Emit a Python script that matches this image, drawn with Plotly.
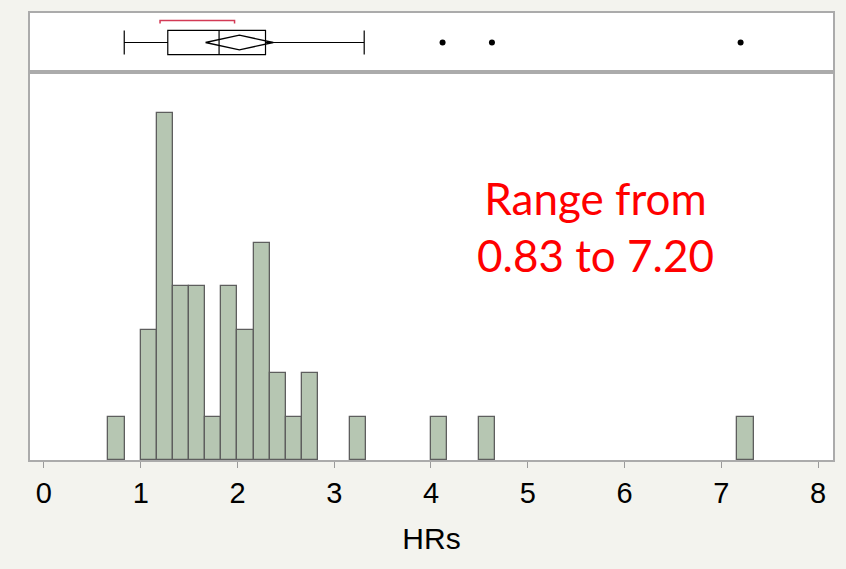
import plotly.graph_objects as go

# ---- Histogram data (bin width 1/6) ----
bin_width = 1 / 6
bin_lefts = [0.667, 1.000, 1.167, 1.333, 1.500, 1.667, 1.833, 2.000, 2.167,
             2.333, 2.500, 2.667, 3.167, 4.000, 4.500, 7.167]
counts = [1, 3, 8, 4, 4, 1, 4, 3, 5, 2, 1, 2, 1, 1, 1, 1]

# ---- Box plot summary ----
whisker_lo = 0.83
q1 = 1.28
median = 1.81
q3 = 2.29
whisker_hi = 3.31
outliers = [4.12, 4.63, 7.20]
mean_val = 2.02
mean_ci = [1.67, 2.37]
shortest_half = [1.20, 1.97]

x_ticks = [0, 1, 2, 3, 4, 5, 6, 7, 8]
x_title = "HRs"
note_text = "Range from<br>0.83 to 7.20"

diamond_h = 0.25
bracket_y = 0.75
bracket_tick = 0.64

fig = go.Figure()

fig.add_trace(go.Bar(
    x=bin_lefts, y=counts, offset=0, width=bin_width,
    marker=dict(color="#b6c6b2", line=dict(color="#5e5e5e", width=1.3)),
    xaxis="x", yaxis="y", showlegend=False, hoverinfo="skip"))

fig.add_trace(go.Box(
    orientation="h", y=[0], q1=[q1], median=[median], q3=[q3],
    lowerfence=[whisker_lo], upperfence=[whisker_hi],
    width=0.82, whiskerwidth=1, boxpoints=False,
    fillcolor="white", line=dict(color="black", width=1.2),
    xaxis="x2", yaxis="y2", showlegend=False, hoverinfo="skip"))

fig.add_trace(go.Scatter(
    x=[mean_ci[0], mean_val, mean_ci[1], mean_val, mean_ci[0]],
    y=[0, diamond_h, 0, -diamond_h, 0], mode="lines",
    line=dict(color="black", width=1.3),
    xaxis="x2", yaxis="y2", showlegend=False, hoverinfo="skip"))

fig.add_trace(go.Scatter(
    x=outliers, y=[0] * len(outliers), mode="markers",
    marker=dict(color="black", size=6),
    xaxis="x2", yaxis="y2", showlegend=False, hoverinfo="skip"))

fig.add_trace(go.Scatter(
    x=[shortest_half[0], shortest_half[0], shortest_half[1], shortest_half[1]],
    y=[bracket_tick, bracket_y, bracket_y, bracket_tick], mode="lines",
    line=dict(color="#d23a55", width=1.5),
    xaxis="x2", yaxis="y2", showlegend=False, hoverinfo="skip"))

split = 0.868
xr = [-0.144, 8.155]
line_col = "#ababab"
bg = "#f3f3ee"

fig.update_layout(
    width=846, height=569,
    margin=dict(l=30, r=11, t=12, b=109),
    paper_bgcolor=bg, plot_bgcolor="white",
    bargap=0,
    xaxis=dict(domain=[0, 1], range=xr, tickmode="array", tickvals=x_ticks,
               ticks="outside", ticklen=6, tickcolor="#9a9a9a", tickwidth=1,
               showgrid=False, zeroline=False, showline=True, mirror=True,
               linecolor=line_col, linewidth=2,
               tickfont=dict(family="Liberation Sans, Arial", size=29, color="black"),
               title=dict(text=x_title, standoff=20,
                          font=dict(family="Liberation Sans, Arial", size=30, color="black"))),
    yaxis=dict(domain=[0, split], range=[0, 8.94], showticklabels=False,
               showgrid=False, zeroline=False, showline=True, mirror=True,
               linecolor=line_col, linewidth=2, ticks=""),
    xaxis2=dict(domain=[0, 1], range=xr, anchor="y2", matches="x",
                showticklabels=False, ticks="", showgrid=False, zeroline=False,
                showline=True, mirror=True, linecolor=line_col, linewidth=2),
    yaxis2=dict(domain=[split, 1], range=[-1, 1], anchor="x2",
                showticklabels=False, ticks="", showgrid=False, zeroline=False,
                showline=True, mirror=True, linecolor=line_col, linewidth=2),
    annotations=[dict(
        x=5.70, y=5.37, xref="x", yref="y", text=note_text, showarrow=False,
        font=dict(family="Lato, Open Sans", size=44, color="#ff0000"),
        align="center", xanchor="center", yanchor="middle")],
)

fig.write_html(
    "out.html",
    config={"displayModeBar": False},
    post_script="document.body.style.margin='0';document.body.style.background='" + bg + "';",
)
